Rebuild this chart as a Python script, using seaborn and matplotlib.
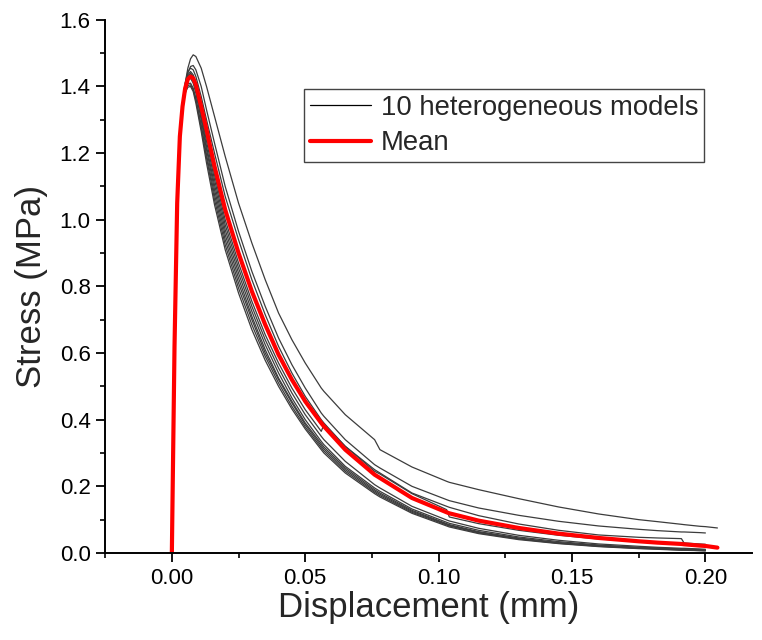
import numpy as np
import pandas as pd
import matplotlib
matplotlib.use("Agg")
import matplotlib.pyplot as plt
import seaborn as sns
from matplotlib.lines import Line2D
from matplotlib.ticker import MultipleLocator, FormatStrFormatter

nan = np.nan

# Displacement grid (mm)
displacement = [0, 0.001, 0.002, 0.003, 0.004, 0.005, 0.006, 0.007, 0.008, 0.009,
                0.011, 0.013, 0.016, 0.020, 0.025, 0.030, 0.035, 0.040, 0.045, 0.050,
                0.056, 0.057, 0.065, 0.076, 0.078, 0.090, 0.103, 0.104, 0.115, 0.130,
                0.145, 0.160, 0.175, 0.182, 0.191, 0.192, 0.198, 0.200, 0.2045]

# Stress (MPa) of the 10 heterogeneous models
model_1 = [0, 0.58, 1.00, 1.22, 1.34, 1.41, 1.455, 1.483, 1.495, 1.49,
           1.455, 1.40, 1.31, 1.19, 1.05, 0.93, 0.82, 0.72, 0.64, 0.57,
           0.495, 0.485, 0.415, 0.34, 0.31, 0.258, 0.215, 0.212, 0.19, 0.163,
           0.138, 0.117, 0.100, 0.094, 0.086, 0.085, 0.080, 0.079, 0.075]
model_2 = [0, 0.60, 1.02, 1.23, 1.34, 1.40, 1.44, 1.46, 1.463, 1.45,
           1.40, 1.33, 1.23, 1.10, 0.965, 0.845, 0.74, 0.645, 0.565, 0.495,
           0.42, 0.41, 0.34, 0.265, 0.255, 0.20, 0.16, 0.157, 0.135, 0.113,
           0.095, 0.081, 0.071, 0.067, 0.063, 0.063, 0.061, 0.060, nan]
model_3 = [0, 0.61, 1.03, 1.24, 1.35, 1.41, 1.445, 1.455, 1.45, 1.43,
           1.37, 1.30, 1.20, 1.07, 0.94, 0.82, 0.715, 0.62, 0.54, 0.47,
           0.40, 0.39, 0.32, 0.25, 0.24, 0.18, 0.14, 0.137, 0.112, 0.087,
           0.068, 0.054, 0.047, 0.045, 0.043, 0.030, 0.027, 0.026, nan]
model_4 = [0, 0.62, 1.04, 1.24, 1.34, 1.40, 1.435, 1.445, 1.435, 1.41,
           1.33, 1.25, 1.135, 1.00, 0.87, 0.755, 0.655, 0.57, 0.495, 0.43,
           0.365, 0.385, 0.32, 0.245, 0.237, 0.178, 0.13, 0.108, 0.088, 0.068,
           0.053, 0.042, 0.035, 0.032, nan, nan, nan, nan, nan]
model_5 = [0, 0.63, 1.05, 1.25, 1.35, 1.40, 1.43, 1.44, 1.43, 1.40,
           1.32, 1.235, 1.12, 0.985, 0.855, 0.74, 0.64, 0.555, 0.48, 0.415,
           0.35, 0.34, 0.275, 0.205, 0.195, 0.14, 0.099, 0.096, 0.074, 0.053,
           0.038, 0.027, 0.020, 0.017, 0.014, 0.014, 0.012, 0.011, nan]
model_6 = [0, 0.63, 1.05, 1.25, 1.35, 1.40, 1.43, 1.435, 1.42, 1.39,
           1.31, 1.22, 1.105, 0.97, 0.84, 0.725, 0.625, 0.54, 0.465, 0.40,
           0.335, 0.325, 0.26, 0.195, 0.185, 0.132, 0.092, 0.089, 0.068, 0.048,
           0.034, 0.024, 0.017, 0.015, 0.012, 0.012, 0.010, 0.009, nan]
model_7 = [0, 0.63, 1.05, 1.25, 1.34, 1.39, 1.42, 1.425, 1.41, 1.38,
           1.30, 1.21, 1.09, 0.955, 0.825, 0.71, 0.61, 0.525, 0.455, 0.39,
           0.328, 0.318, 0.255, 0.19, 0.18, 0.128, 0.088, 0.085, 0.064, 0.045,
           0.031, 0.022, 0.016, 0.014, 0.011, 0.011, 0.009, 0.008, nan]
model_8 = [0, 0.64, 1.06, 1.25, 1.34, 1.39, 1.408, 1.41, 1.395, 1.365,
           1.285, 1.195, 1.075, 0.94, 0.81, 0.70, 0.60, 0.52, 0.45, 0.385,
           0.322, 0.312, 0.25, 0.186, 0.176, 0.125, 0.086, 0.083, 0.062, 0.043,
           0.030, 0.021, 0.015, 0.013, 0.010, 0.010, 0.008, nan, nan]
model_9 = [0, 0.64, 1.06, 1.25, 1.34, 1.385, 1.403, 1.405, 1.39, 1.36,
           1.275, 1.185, 1.06, 0.925, 0.795, 0.685, 0.59, 0.51, 0.44, 0.378,
           0.316, 0.306, 0.245, 0.182, 0.172, 0.122, 0.084, 0.081, 0.060, 0.042,
           0.029, 0.020, 0.014, 0.012, 0.009, 0.009, 0.007, 0.007, nan]
model_10 = [0, 0.64, 1.06, 1.25, 1.335, 1.38, 1.398, 1.40, 1.385, 1.35,
            1.265, 1.17, 1.045, 0.91, 0.78, 0.67, 0.578, 0.50, 0.432, 0.372,
            0.31, 0.30, 0.24, 0.178, 0.168, 0.119, 0.081, 0.078, 0.058, 0.040,
            0.028, 0.019, 0.013, 0.011, 0.008, 0.008, 0.007, 0.006, nan]

# Mean curve
mean_stress = [0, 0.62, 1.05, 1.25, 1.34, 1.395, 1.422, 1.43, 1.425, 1.405,
               1.34, 1.27, 1.16, 1.03, 0.90, 0.785, 0.685, 0.595, 0.52, 0.455,
               0.39, 0.38, 0.31, 0.235, 0.225, 0.165, 0.122, 0.119, 0.097, 0.075,
               0.058, 0.045, 0.035, 0.031, 0.027, 0.026, 0.022, 0.021, 0.016]

legend_labels = ["10 heterogeneous models", "Mean"]
x_label = "Displacement (mm)"
y_label = "Stress (MPa)"

models = [model_1, model_2, model_3, model_4, model_5,
          model_6, model_7, model_8, model_9, model_10]
frames = []
for i, vals in enumerate(models, start=1):
    d = pd.DataFrame({"disp": displacement, "stress": vals, "model": i})
    frames.append(d.dropna())
df = pd.concat(frames, ignore_index=True)
df_mean = pd.DataFrame({"disp": displacement, "stress": mean_stress})

sns.set_style("ticks")
plt.rcParams["font.family"] = ["Liberation Sans", "DejaVu Sans"]

fig = plt.figure(figsize=(7.62, 6.4), dpi=100)
ax = fig.add_axes([0.138, 0.136, 0.849, 0.833])

sns.lineplot(data=df, x="disp", y="stress", units="model", estimator=None,
             color="#3c3c3c", linewidth=0.9, sort=False, ax=ax, legend=False)
sns.lineplot(data=df_mean, x="disp", y="stress", color="#ff0000",
             linewidth=3.0, sort=False, ax=ax, legend=False)

ax.set_xlim(-0.025, 0.2175)
ax.set_ylim(0, 1.6)
ax.xaxis.set_major_locator(MultipleLocator(0.05))
ax.xaxis.set_minor_locator(MultipleLocator(0.025))
ax.yaxis.set_major_locator(MultipleLocator(0.2))
ax.yaxis.set_minor_locator(MultipleLocator(0.1))
ax.xaxis.set_major_formatter(FormatStrFormatter("%.2f"))
ax.yaxis.set_major_formatter(FormatStrFormatter("%.1f"))

for side in ["top", "right"]:
    ax.spines[side].set_visible(False)
for side in ["left", "bottom"]:
    ax.spines[side].set_linewidth(1.4)
    ax.spines[side].set_color("black")

ax.tick_params(which="major", direction="out", length=6.5, width=1.3,
               labelsize=16, colors="black", pad=4)
ax.tick_params(which="minor", direction="out", length=3.5, width=1.2,
               colors="black")

ax.set_xlabel(x_label, fontsize=25, labelpad=2)
ax.set_ylabel(y_label, fontsize=25, labelpad=8)

handles = [Line2D([], [], color="black", linewidth=0.9),
           Line2D([], [], color="#ff0000", linewidth=3.0)]
leg = ax.legend(handles, legend_labels, loc="upper right",
                bbox_to_anchor=(0.926, 0.8705), fontsize=19.8, frameon=True,
                fancybox=False, edgecolor="#444444", framealpha=1,
                handlelength=2.2, handletextpad=0.36, borderpad=0.22,
                labelspacing=0.34, borderaxespad=0)
leg.get_frame().set_linewidth(1.0)

fig.savefig("out.png", dpi=100)
